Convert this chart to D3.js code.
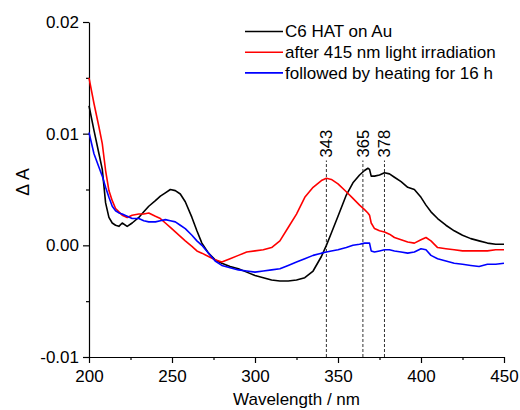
<!DOCTYPE html>
<html>
<head>
<meta charset="utf-8">
<script src="https://cdn.jsdelivr.net/npm/d3@7"></script>
<style>
  body { margin: 0; background: #fff; }
  svg { display: block; font-family: "Liberation Sans", Arial, sans-serif; }
</style>
</head>
<body>
<div id="chart"></div>
<script>
// wavelengths (nm)
const wavelengths = [200,203,206,208,210,212,214,216,218,220,223,226,230,233,236,240,243,246,249,252,255,258,262,265,268,272,276,280,285,290,295,300,305,310,315,320,325,330,335,340,343,346,350,355,359,363,366,368,369,370,372,375,378,381,384,388,392,396,400,403,406,410,415,420,425,430,435,440,445,450];

// C6 HAT on Au
const seriesAu = [0.0125,0.0103,0.0082,0.0068,0.0038,0.0025,0.0020,0.0018,0.0017,0.0020,0.0017,0.0020,0.0025,0.0030,0.0035,0.0040,0.0044,0.0047,0.0050,0.0049,0.0046,0.0039,0.0025,0.0013,0.0002,-0.0007,-0.0013,-0.0016,-0.0019,-0.0021,-0.0024,-0.0027,-0.0029,-0.0031,-0.0032,-0.0032,-0.0031,-0.0029,-0.0023,-0.0010,0.0000,0.0011,0.0026,0.0045,0.0056,0.0063,0.0067,0.0069,0.0068,0.0062,0.0062,0.0063,0.0065,0.0064,0.0061,0.0057,0.0052,0.0050,0.0043,0.0036,0.0030,0.0024,0.0018,0.0013,0.0009,0.0006,0.0004,0.0002,0.0001,0.0001];

// after 415 nm light irradiation
const seriesIrr = [0.0150,0.0127,0.0106,0.0091,0.0067,0.0049,0.0040,0.0033,0.0030,0.0027,0.0025,0.0027,0.0028,0.0028,0.0029,0.0026,0.0024,0.0020,0.0016,0.0012,0.0008,0.0004,-0.0001,-0.0005,-0.0007,-0.0010,-0.0013,-0.0015,-0.0012,-0.0009,-0.0006,-0.0005,-0.0004,-0.0002,0.0004,0.0016,0.0028,0.0043,0.0052,0.0058,0.0060,0.0059,0.0055,0.0048,0.0042,0.0036,0.0032,0.0029,0.0027,0.0020,0.0015,0.0013,0.0012,0.0010,0.0007,0.0005,0.0003,0.0002,0.0005,0.0007,0.0004,-0.0002,-0.0003,-0.0004,-0.0005,-0.0005,-0.0005,-0.0005,-0.0004,-0.0004];

// followed by heating for 16 h
const seriesHeat = [0.0101,0.0082,0.0070,0.0062,0.0052,0.0043,0.0035,0.0031,0.0029,0.0028,0.0026,0.0024,0.0024,0.0022,0.0021,0.0021,0.0022,0.0023,0.0022,0.0021,0.0018,0.0015,0.0009,0.0004,0.0000,-0.0007,-0.0014,-0.0018,-0.0020,-0.0022,-0.0023,-0.0024,-0.0023,-0.0022,-0.0021,-0.0018,-0.0015,-0.0012,-0.0009,-0.0007,-0.0006,-0.0005,-0.0004,-0.0002,0.0000,0.0001,0.0002,0.0002,0.0002,-0.0005,-0.0006,-0.0005,-0.0004,-0.0004,-0.0005,-0.0006,-0.0007,-0.0006,-0.0003,-0.0004,-0.0009,-0.0012,-0.0014,-0.0016,-0.0017,-0.0018,-0.0019,-0.0017,-0.0017,-0.0016];

const seriesNames = ['C6 HAT on Au', 'after 415 nm light irradiation', 'followed by heating for 16 h'];
const seriesColors = ['#000000', '#ff0000', '#0000ff'];

const peakWavelengths = [343, 365, 378];
const peakTop = 0.0076;

const xTicks = [200, 250, 300, 350, 400, 450];
const xMinorTicks = [225, 275, 325, 375, 425];
const yTicks = [-0.01, 0.00, 0.01, 0.02];
const yMinorTicks = [-0.005, 0.005, 0.015];

const margin = {top: 22, right: 16, bottom: 53, left: 89};
const width = 520 - margin.left - margin.right,
	height = 410 - margin.top - margin.bottom;

const svg = d3.select('#chart').append('svg')
	.attr('width', 520)
	.attr('height', 410);

const g = svg.append('g')
	.attr('transform', `translate(${margin.left},${margin.top})`);

const xScale = d3.scaleLinear().domain([200, 450]).range([0, width]);
const yScale = d3.scaleLinear().domain([-0.01, 0.02]).range([height, 0]);

// axes
const xAxis = g.append('g')
	.attr('transform', `translate(0,${height})`)
	.call(d3.axisBottom(xScale).tickValues(xTicks).tickSize(6).tickSizeOuter(0).tickPadding(4));
g.append('g')
	.attr('transform', `translate(0,${height})`)
	.call(d3.axisBottom(xScale).tickValues(xMinorTicks).tickSize(3).tickFormat(''))
	.select('.domain').remove();

const yAxis = g.append('g')
	.call(d3.axisLeft(yScale).tickValues(yTicks).tickSize(6).tickSizeOuter(0).tickPadding(4)
		.tickFormat(d => d3.format('.2f')(d).replace('\u2212', '-')));
g.append('g')
	.call(d3.axisLeft(yScale).tickValues(yMinorTicks).tickSize(3).tickFormat(''))
	.select('.domain').remove();

svg.selectAll('.tick text')
	.style('font-family', '"Liberation Sans", Arial, sans-serif')
	.style('font-size', '17px')
	.attr('fill', '#000');
svg.selectAll('.domain, .tick line').attr('stroke', '#000').attr('stroke-width', 1.2);
xAxis.selectAll('.tick text').attr('dy', '0.9em');

// axis titles
svg.append('text')
	.attr('x', margin.left + width / 2)
	.attr('y', 405)
	.attr('text-anchor', 'middle')
	.style('font-size', '17px')
	.text('Wavelength / nm');

svg.append('text')
	.attr('transform', 'translate(29,182) rotate(-90)')
	.attr('text-anchor', 'middle')
	.style('font-size', '17.5px')
	.text('\u0394 A');

// dashed markers
peakWavelengths.forEach(w => {
	g.append('line')
		.attr('x1', xScale(w)).attr('x2', xScale(w))
		.attr('y1', yScale(-0.01)).attr('y2', yScale(peakTop))
		.attr('stroke', '#333')
		.attr('stroke-width', 1)
		.attr('stroke-dasharray', '3,2');
	g.append('text')
		.attr('transform', `translate(${xScale(w)},${yScale(peakTop) - 3}) rotate(-90)`)
		.attr('dy', '0.35em')
		.style('font-size', '16.5px')
		.text(w);
});

// curves
const allSeries = [seriesAu, seriesIrr, seriesHeat];
const line = d3.line()
	.x((d, i) => xScale(wavelengths[i]))
	.y(d => yScale(d));

allSeries.forEach((s, k) => {
	g.append('path')
		.datum(s)
		.attr('fill', 'none')
		.attr('stroke', seriesColors[k])
		.attr('stroke-width', 1.6)
		.attr('stroke-linejoin', 'round')
		.attr('d', line);
});

// legend
const legend = svg.append('g')
	.selectAll('g')
	.data(seriesNames)
	.enter().append('g')
	.attr('transform', (d, i) => `translate(245,${31.5 + i * 20.7})`);

legend.append('line')
	.attr('x1', 0).attr('x2', 38)
	.attr('stroke', (d, i) => seriesColors[i])
	.attr('stroke-width', 1.6);

legend.append('text')
	.attr('x', 40)
	.attr('dy', '0.35em')
	.style('font-size', '17px')
	.text(d => d);
</script>
</body>
</html>
